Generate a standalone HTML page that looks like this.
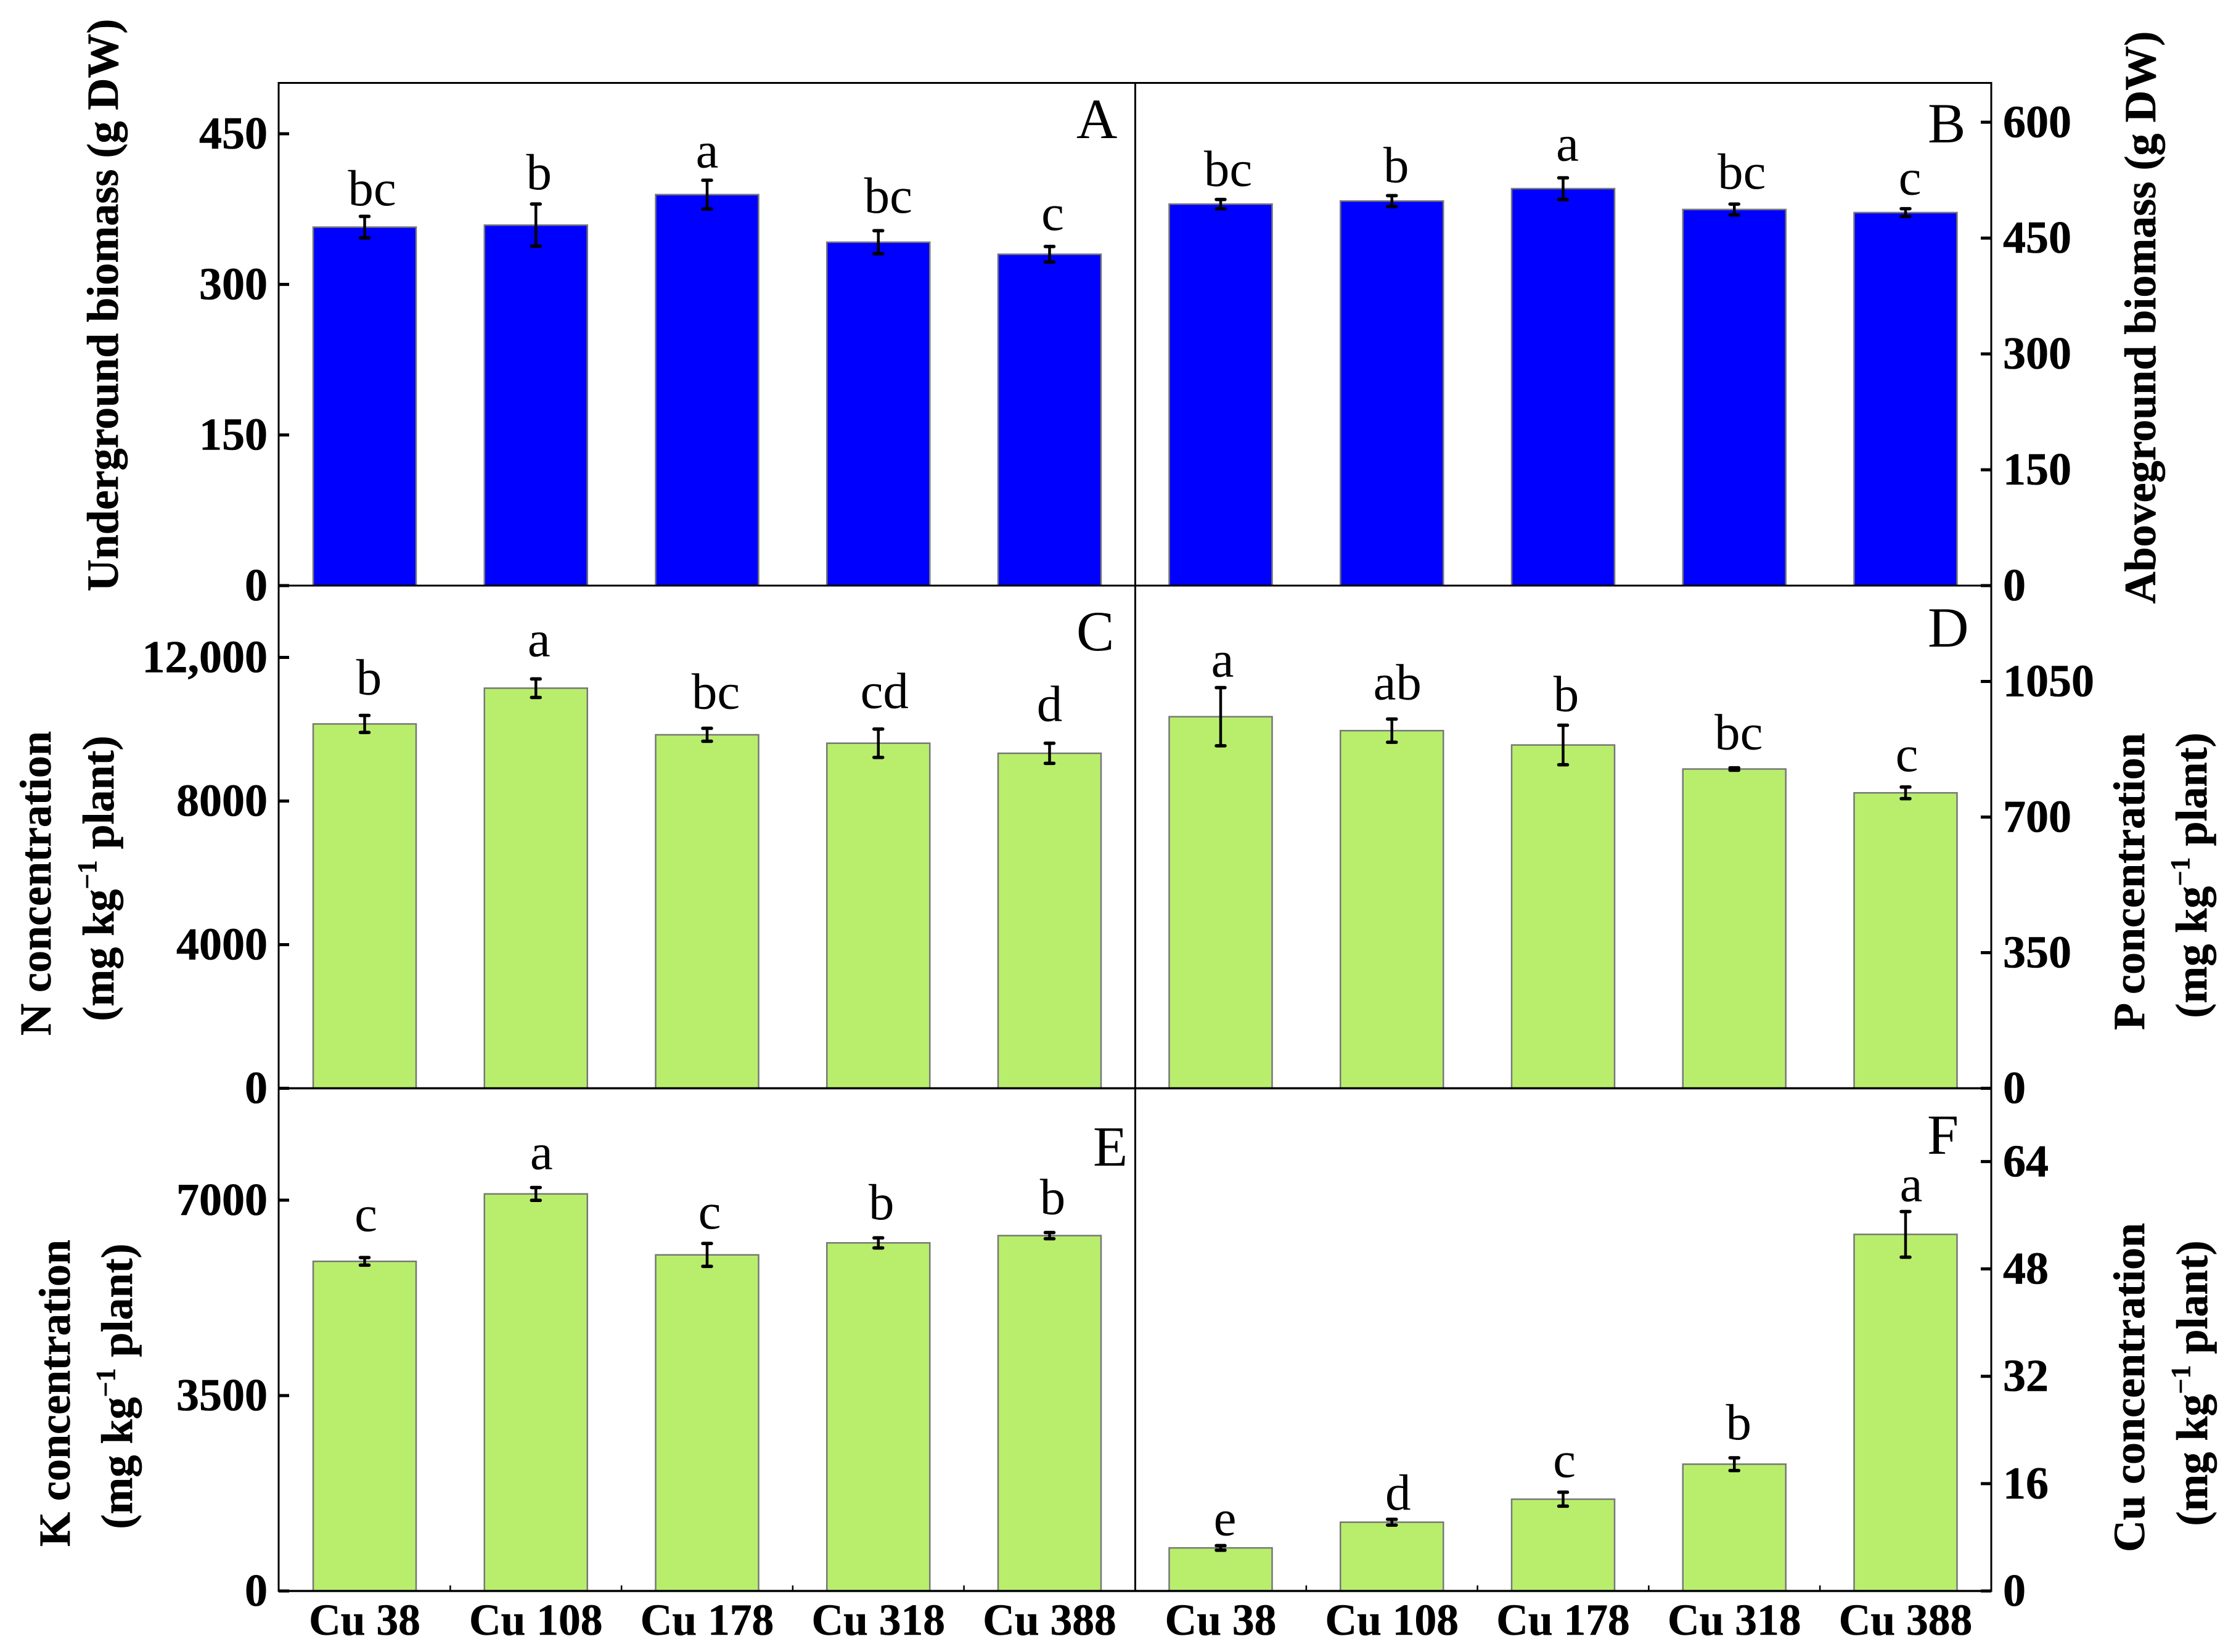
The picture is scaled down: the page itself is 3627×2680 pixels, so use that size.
<!DOCTYPE html>
<html lang="en">
<head>
<meta charset="utf-8">
<title>Biomass and nutrient concentration bar charts</title>
<style>
  html, body { margin: 0; padding: 0; background: #fff; }
  svg { display: block; }
  text { font-family: "Liberation Serif", serif; fill: #000; }
  .axis-title { font-size: 72px; font-weight: bold; text-anchor: middle; stroke: #000; stroke-width: 0.6px; }
  .panel-letter { font-size: 92px; }
</style>
</head>
<body>
<svg id="chart" xmlns="http://www.w3.org/2000/svg" width="3627" height="2680" viewBox="0 0 3627 2680">
  <rect x="0" y="0" width="3627" height="2680" fill="#fff"/>
  <g id="marks"></g>
  <g id="frame" stroke="#000" fill="none">
    <line x1="451" x2="3231" y1="134.5" y2="134.5" stroke-width="3"/>
    <line x1="452" x2="452" y1="133" y2="2582.5" stroke-width="3"/>
    <line x1="3230" x2="3230" y1="133" y2="2582.5" stroke-width="3"/>
    <line x1="1841.5" x2="1841.5" y1="134" y2="2581" stroke-width="3"/>
    <line x1="452" x2="3230" y1="950" y2="950" stroke-width="3"/>
    <line x1="452" x2="3230" y1="1765.5" y2="1765.5" stroke-width="3.5"/>
    <line x1="452" x2="3230" y1="2581" y2="2581" stroke-width="3.5"/>
  </g>
  <g id="labels"></g>

  <text class="panel-letter" x="1746" y="224">A</text>
  <text class="panel-letter" x="3127" y="231">B</text>
  <text class="panel-letter" x="1746" y="1055">C</text>
  <text class="panel-letter" x="3127" y="1049">D</text>
  <text class="panel-letter" x="1773" y="1891">E</text>
  <text class="panel-letter" x="3126" y="1872">F</text>

  <text class="axis-title" transform="translate(191,495) rotate(-90)">Underground biomass (g DW)</text>
  <text class="axis-title" transform="translate(3496,515) rotate(-90)">Aboveground biomass (g DW)</text>

  <text class="axis-title" transform="translate(82,1433) rotate(-90)">N concentration</text>
  <text class="axis-title" transform="translate(184,1425) rotate(-90)">(mg kg<tspan font-size="44" dy="-28">−1</tspan><tspan dy="28"> plant)</tspan></text>

  <text class="axis-title" transform="translate(3478,1430) rotate(-90)">P concentration</text>
  <text class="axis-title" transform="translate(3579,1420) rotate(-90)">(mg kg<tspan font-size="44" dy="-28">−1</tspan><tspan dy="28"> plant)</tspan></text>

  <text class="axis-title" transform="translate(113,2260) rotate(-90)">K concentration</text>
  <text class="axis-title" transform="translate(214,2249) rotate(-90)">(mg kg<tspan font-size="44" dy="-28">−1</tspan><tspan dy="28"> plant)</tspan></text>

  <text class="axis-title" transform="translate(3478,2251) rotate(-90)">Cu concentration</text>
  <text class="axis-title" transform="translate(3580,2244) rotate(-90)">(mg kg<tspan font-size="44" dy="-28">−1</tspan><tspan dy="28"> plant)</tspan></text>
</svg>

<script>
// ---- Data ----
const categories = ['Cu 38', 'Cu 108', 'Cu 178', 'Cu 318', 'Cu 388'];

const panelATicks = [0, 150, 300, 450];
const panelAValues = [357, 359, 389.4, 342, 330];
const panelAErrors = [10.7, 21, 14.3, 11.5, 7.7];
const panelALetters = ['bc', 'b', 'a', 'bc', 'c'];

const panelBTicks = [0, 150, 300, 450, 600];
const panelBValues = [494, 498, 514, 487, 483];
const panelBErrors = [6, 7, 14, 7, 5];
const panelBLetters = ['bc', 'b', 'a', 'bc', 'c'];

const panelCTicks = [0, 4000, 8000, 12000];
const panelCTickLabels = ['0', '4000', '8000', '12,000'];
const panelCValues = [10147, 11143, 9845, 9610, 9330];
const panelCErrors = [237, 258, 180, 395, 280];
const panelCLetters = ['b', 'a', 'bc', 'cd', 'd'];

const panelDTicks = [0, 350, 700, 1050];
const panelDValues = [959, 923, 886, 824, 762.5];
const panelDErrors = [75, 30, 51, 3, 15];
const panelDLetters = ['a', 'ab', 'b', 'bc', 'c'];

const panelETicks = [0, 3500, 7000];
const panelEValues = [5904, 7112, 6020, 6235, 6365];
const panelEErrors = [68, 115, 205, 90, 55];
const panelELetters = ['c', 'a', 'c', 'b', 'b'];

const panelFTicks = [0, 16, 32, 48, 64];
const panelFValues = [6.42, 10.25, 13.68, 18.9, 53.15];
const panelFErrors = [0.34, 0.43, 1.04, 0.95, 3.4];
const panelFLetters = ['e', 'd', 'c', 'b', 'a'];

// ---- Layout ----
const SVG_NS = 'http://www.w3.org/2000/svg';
const LEFT_AXIS = 452, RIGHT_AXIS = 3230;
const BAR_W = 167, BAR_STEP = 277.75;
const LEFT_FIRST_CENTER = 591.5, RIGHT_FIRST_CENTER = 1980;
const BLUE = '#0000ff', GREEN = '#b9ee6d';
const LABEL_GAP = 22;

const panels = [
  { id: 'a', side: 'left',  baseline: 950,    pxPerUnit: 733 / 450,    fill: BLUE,  ticks: panelATicks, tickLabels: null, values: panelAValues, errors: panelAErrors, letters: panelALetters,
    letterDx: [12, 5, 0, 16, 5], letterDy: [4, -2, 1, -7, -5], showCategories: false },
  { id: 'b', side: 'right', baseline: 950,    pxPerUnit: 751.7 / 600,  fill: BLUE,  ticks: panelBTicks, tickLabels: null, values: panelBValues, errors: panelBErrors, letters: panelBLetters,
    letterDx: [12, 7, 7, 12, 7], letterDy: [0, 0, -6, -3, -1], showCategories: false },
  { id: 'c', side: 'left',  baseline: 1765.5, pxPerUnit: 699 / 12000,  fill: GREEN, ticks: panelCTicks, tickLabels: panelCTickLabels, values: panelCValues, errors: panelCErrors, letters: panelCLetters,
    letterDx: [7, 5, 14, 10, 0], letterDy: [-12, -15, -10, -12, -14], showCategories: false },
  { id: 'd', side: 'right', baseline: 1765.5, pxPerUnit: 660 / 1050,   fill: GREEN, ticks: panelDTicks, tickLabels: null, values: panelDValues, errors: panelDErrors, letters: panelDLetters,
    letterDx: [3, 9, 5, 7, 2], letterDy: [4, -10, -1, -8, -4], showCategories: false },
  { id: 'e', side: 'left',  baseline: 2581,   pxPerUnit: 634 / 7000,   fill: GREEN, ticks: panelETicks, tickLabels: null, values: panelEValues, errors: panelEErrors, letters: panelELetters,
    letterDx: [2, 9, 4, 5, 5], letterDy: [-21, -8, -2, -8, -8], showCategories: true },
  { id: 'f', side: 'right', baseline: 2581,   pxPerUnit: 696.6 / 64,   fill: GREEN, ticks: panelFTicks, tickLabels: null, values: panelFValues, errors: panelFErrors, letters: panelFLetters,
    letterDx: [7, 10, 2, 7, 9], letterDy: [5, 6, -3, -8, 5], showCategories: true }
];

// ---- Axis functions ----
function yScale(panel, value) {
  return panel.baseline - value * panel.pxPerUnit;
}
function xScale(panel, index) {
  const first = panel.side === 'left' ? LEFT_FIRST_CENTER : RIGHT_FIRST_CENTER;
  return first + index * BAR_STEP;
}

function mk(tag, attrs) {
  const el = document.createElementNS(SVG_NS, tag);
  for (const key in attrs) el.setAttribute(key, attrs[key]);
  return el;
}

const marks = document.getElementById('marks');
const labels = document.getElementById('labels');

panels.forEach(function (panel) {
  // Bars, error bars and significance letters
  panel.values.forEach(function (value, i) {
    const cx = xScale(panel, i);
    const top = yScale(panel, value);
    const errTop = yScale(panel, value + panel.errors[i]);
    const errBottom = yScale(panel, value - panel.errors[i]);

    const bar = mk('rect', { x: cx - BAR_W / 2, y: top, width: BAR_W, height: panel.baseline - top, fill: panel.fill, stroke: '#777', 'stroke-width': 2.5 });
    
    
    marks.appendChild(bar);

    const stem = mk('line', { x1: cx, x2: cx, y1: errTop, y2: errBottom, stroke: '#000', 'stroke-width': 4.5 });
    
    
    labels.appendChild(stem);

    const capTop = mk('line', { x1: cx - 7, x2: cx + 7, y1: errTop, y2: errTop, stroke: '#000', 'stroke-width': 5.5, 'stroke-linecap': 'round' });
    
    
    labels.appendChild(capTop);

    const capBottom = mk('line', { x1: cx - 7, x2: cx + 7, y1: errBottom, y2: errBottom, stroke: '#000', 'stroke-width': 5.5, 'stroke-linecap': 'round' });
    
    
    labels.appendChild(capBottom);

    const letter = mk('text', { x: cx + panel.letterDx[i], y: errTop - LABEL_GAP + panel.letterDy[i], 'text-anchor': 'middle', 'font-size': 83 });
    
    
    letter.textContent = panel.letters[i];
    labels.appendChild(letter);
  });

  // Y ticks and their labels
  const axisX = panel.side === 'left' ? LEFT_AXIS : RIGHT_AXIS;
  const tickDir = panel.side === 'left' ? 1 : -1;
  panel.ticks.forEach(function (tick, i) {
    const y = yScale(panel, tick);
    const tickLine = mk('line', { x1: axisX, x2: axisX + tickDir * 17, y1: y, y2: y, stroke: '#000', 'stroke-width': 5 });
    
    
    labels.appendChild(tickLine);

    const tickX = panel.side === 'left' ? 434 : 3249;
    const tickText = mk('text', { x: tickX, y: y + 24, 'font-size': 74, 'font-weight': 'bold', 'text-anchor': panel.side === 'left' ? 'end' : 'start', stroke: '#000', 'stroke-width': 0.6 });
    
    
    tickText.textContent = panel.tickLabels ? panel.tickLabels[i] : String(tick);
    labels.appendChild(tickText);
  });

  // Category labels and minor x ticks on the bottom row
  if (panel.showCategories) {
    categories.forEach(function (name, i) {
      const cx = xScale(panel, i);
      const catText = mk('text', { x: cx, y: 2652, 'font-size': 71.5, 'font-weight': 'bold', 'text-anchor': 'middle', stroke: '#000', 'stroke-width': 0.6 });
      
      
      catText.textContent = name;
      labels.appendChild(catText);

      if (i < categories.length - 1) {
        const mid = cx + BAR_STEP / 2;
        const minor = mk('line', { x1: mid, x2: mid, y1: panel.baseline, y2: panel.baseline - 9, stroke: '#000', 'stroke-width': 2.5 });
        
        
        labels.appendChild(minor);
      }
    });
  }
});
</script>
</body>
</html>
